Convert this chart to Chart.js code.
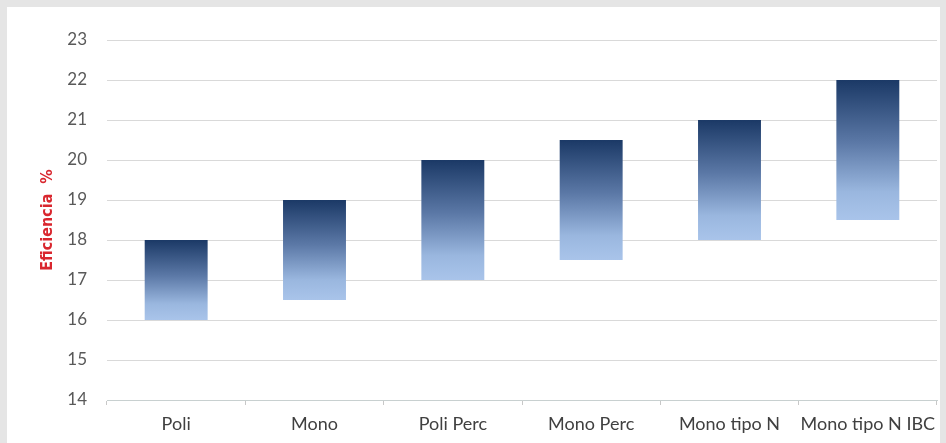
<!DOCTYPE html>
<html>
<head>
<meta charset="utf-8">
<script src="https://cdn.jsdelivr.net/npm/chart.js@4.4.1/dist/chart.umd.min.js"></script>
<style>
  html, body { margin: 0; padding: 0; background: #e5e5e5; }
  #panel { position: absolute; left: 7px; top: 7px; width: 933px; height: 436px; background: #ffffff; }
  #chartEficiencia { display: block; }
</style>
</head>
<body>
<div id="panel"><canvas id="chartEficiencia" width="933" height="436"></canvas></div>
<script>
// Datos (rango de eficiencia %)
const tecnologias = ['Poli', 'Mono', 'Poli Perc', 'Mono Perc', 'Mono tipo N', 'Mono tipo N IBC'];
const eficienciaMin = [16, 16.5, 17, 17.5, 18, 18.5];
const eficienciaMax = [18, 19, 20, 20.5, 21, 22];
const yTicks = [14, 15, 16, 17, 18, 19, 20, 21, 22, 23];

(function() {
    'use strict';

    // degradado azul oscuro (arriba) -> azul claro (abajo) para cada barra
    function barGradient(context) {
        const chart = context.chart;
        const yScale = chart.scales.y;
        const raw = context.raw;
        if (!chart.chartArea || !yScale || !Array.isArray(raw)) return '#5a78a8';
        const top = yScale.getPixelForValue(Math.max(raw[0], raw[1]));
        const bottom = yScale.getPixelForValue(Math.min(raw[0], raw[1]));
        if (!isFinite(top) || !isFinite(bottom) || top === bottom) return '#5a78a8';
        const g = chart.ctx.createLinearGradient(0, top, 0, bottom);
        g.addColorStop(0, '#1b3966');
        g.addColorStop(0.45, '#5c79a7');
        g.addColorStop(0.8, '#9ab7df');
        g.addColorStop(1, '#a9c4ea');
        return g;
    }

    const ctx = document.getElementById('chartEficiencia');
    new Chart(ctx, {
        type: 'bar',
        data: {
            labels: tecnologias,
            datasets: [{
                label: 'Eficiencia %',
                data: tecnologias.map((_, i) => [eficienciaMin[i], eficienciaMax[i]]),
                backgroundColor: barGradient,
                borderWidth: 0,
                borderSkipped: false,
                barPercentage: 0.455,
                categoryPercentage: 1
            }]
        },
        options: {
            responsive: false,
            animation: false,
            layout: { padding: { top: 33, right: 3, bottom: 0, left: 0 } },
            plugins: {
                legend: { display: false },
                tooltip: { enabled: false }
            },
            scales: {
                y: {
                    min: 14,
                    max: 23,
                    afterBuildTicks: (scale) => { scale.ticks = yTicks.map(v => ({ value: v })); },
                    afterFit: (scale) => { scale.width = 100; },
                    grid: { color: '#d9d9d9', lineWidth: 1, drawTicks: false },
                    border: { display: false },
                    ticks: {
                        padding: 20,
                        color: '#595959',
                        font: { family: 'Lato', size: 17 }
                    },
                    title: {
                        display: true,
                        text: 'Eficiencia  %',
                        color: '#d9262e',
                        font: { family: 'DejaVu Sans Condensed', size: 16, weight: 'bold' },
                        padding: { top: 31, bottom: 0 }
                    }
                },
                x: {
                    afterFit: (scale) => {
                        scale.height = 43;
                        scale.paddingLeft = 0;
                        scale.paddingRight = 0;
                    },
                    grid: {
                        offset: true,
                        drawOnChartArea: false,
                        color: '#c8c8c8',
                        tickLength: 5
                    },
                    border: { display: true, color: '#c8d0d0', width: 1 },
                    ticks: {
                        padding: 8,
                        autoSkip: false,
                        maxRotation: 0,
                        minRotation: 0,
                        color: '#404040',
                        font: { family: 'Lato', size: 18 }
                    }
                }
            }
        }
    });
})();
</script>
</body>
</html>
